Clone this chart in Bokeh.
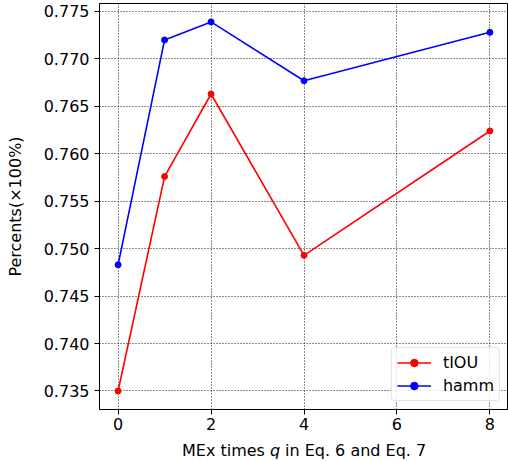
from bokeh.plotting import figure
from bokeh.layouts import column
from bokeh.models import Range1d, FixedTicker, PrintfTickFormatter, Legend, LegendItem
from bokeh.core.properties import value
from bokeh.embed import file_html
from bokeh.resources import INLINE

# data
q_times = [0, 1, 2, 4, 8]
tiou = [0.7350, 0.7576, 0.7663, 0.7493, 0.7624]
hamm = [0.7483, 0.7720, 0.7739, 0.7677, 0.7728]
x_ticks = [0, 2, 4, 6, 8]
y_ticks = [0.735, 0.740, 0.745, 0.750, 0.755, 0.760, 0.765, 0.770, 0.775]
series_names = ["tIOU", "hamm"]
series_colors = ["#ff0000", "#0000ff"]
x_label_parts = ["MEx times", "q", "in Eq. 6 and Eq. 7"]
y_label = "Percents(\u00d7100%)"

FONT = "DejaVu Sans"
FS = "16px"

W = 508
MAIN_H = 436
LABEL_H = 461 - MAIN_H
LEFT = 99

x_lo, x_hi = -0.4, 8.4
y_lo, y_hi = 0.73305, 0.77584

p = figure(width=W, height=MAIN_H, output_backend="svg", toolbar_location=None,
           x_range=Range1d(x_lo, x_hi), y_range=Range1d(y_lo, y_hi),
           min_border_left=LEFT, min_border_right=0, min_border_top=3,
           min_border_bottom=MAIN_H - 409)

p.outline_line_color = "black"
p.outline_line_width = 1
p.background_fill_color = "white"
p.border_fill_color = "white"

for ax in (p.xaxis[0], p.yaxis[0]):
    ax.axis_line_color = "black"
    ax.axis_line_width = 1
    ax.major_tick_line_color = "black"
    ax.major_tick_out = 5
    ax.major_tick_in = 0
    ax.minor_tick_line_color = None
    ax.major_label_text_font = FONT
    ax.major_label_text_font_size = FS
    ax.major_label_text_color = "black"
    ax.major_label_standoff = 5

p.xaxis[0].major_label_standoff = 3

p.xaxis.ticker = FixedTicker(ticks=x_ticks)
p.yaxis.ticker = FixedTicker(ticks=y_ticks)
p.yaxis.formatter = PrintfTickFormatter(format="%.3f")

p.yaxis.axis_label = y_label
p.yaxis.axis_label_text_font = FONT
p.yaxis.axis_label_text_font_size = FS
p.yaxis.axis_label_text_font_style = "normal"
p.yaxis.axis_label_text_color = "black"
p.yaxis.axis_label_standoff = 16

for g in (p.xgrid[0], p.ygrid[0]):
    g.grid_line_color = "black"
    g.grid_line_dash = "1 2"
    g.grid_line_width = 1
    g.grid_line_alpha = 0.9

items = []
for name, color, vals in zip(series_names, series_colors, [tiou, hamm]):
    r1 = p.line(q_times, vals, line_color=color, line_width=1.6)
    r2 = p.scatter(q_times, vals, size=6, fill_color=color, line_color=color, marker="circle")
    items.append(LegendItem(label=name, renderers=[r1, r2]))

legend = Legend(items=items, location="bottom_right")
legend.margin = 8
legend.padding = 5
legend.spacing = 4
legend.label_height = 19
legend.glyph_height = 19
legend.glyph_width = 34
legend.label_standoff = 12
legend.label_text_font = FONT
legend.label_text_font_size = FS
legend.label_text_color = "black"
legend.border_line_color = "#cccccc"
legend.border_line_width = 1
legend.background_fill_color = "white"
legend.background_fill_alpha = 0.8
try:
    legend.border_radius = 4
except Exception:
    pass
p.add_layout(legend, "center")

# x axis label strip (italic q); shares the x scale of the main plot
lab = figure(width=W, height=LABEL_H, output_backend="svg", toolbar_location=None,
             x_range=p.x_range, y_range=Range1d(0, LABEL_H),
             x_axis_type=None, y_axis_type=None,
             min_border_left=LEFT, min_border_right=0, min_border_top=0, min_border_bottom=0)
lab.outline_line_color = None
lab.xgrid.visible = False
lab.ygrid.visible = False
lab.background_fill_color = "white"
lab.border_fill_color = "white"

xc = (x_lo + x_hi) / 2
start = -122
offs = [start, start + 88, start + 88 + 10 + 5]
styles = ["normal", "italic", "normal"]
for txt, off, st in zip(x_label_parts, offs, styles):
    lab.text(x=[xc], y=[LABEL_H - 14], text=[txt], x_offset=off, text_font=value(FONT),
             text_font_size=FS, text_font_style=st, text_color="black",
             text_align="left", text_baseline="alphabetic")

layout = column(p, lab, spacing=0)
open("out.html", "w").write(file_html(layout, INLINE))
